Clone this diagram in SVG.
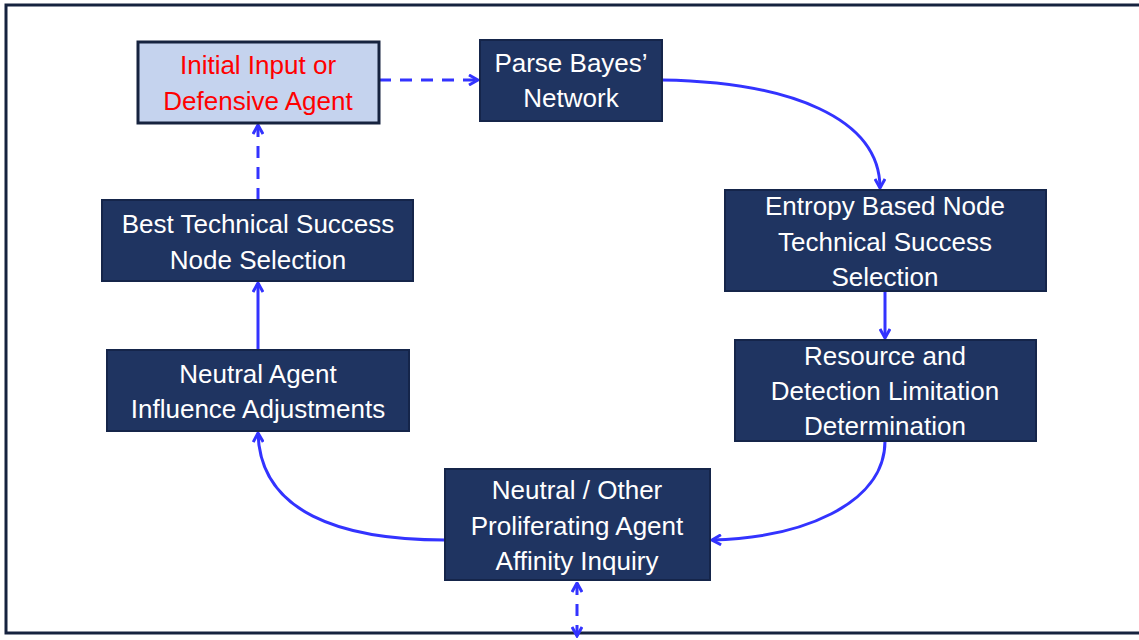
<svg xmlns="http://www.w3.org/2000/svg" width="1139" height="640" viewBox="0 0 1139 640">
<style>
.node rect{fill:#1f3461;stroke:#15254a;stroke-width:2}
.node text{fill:#ffffff;font-family:"Liberation Sans",Arial,sans-serif;font-size:26px;text-anchor:middle}
#n-initial rect{fill:#c5d3ee;stroke:#16233f;stroke-width:3}
#n-initial text{fill:#ff0000}
.conn path{fill:none;stroke:#3333ff;stroke-width:3}
.conn .dash{stroke-dasharray:12 9}
</style>
<defs>
<marker id="arr" viewBox="0 0 12 12" refX="10.5" refY="6" markerWidth="12" markerHeight="12" markerUnits="userSpaceOnUse" orient="auto-start-reverse">
<path d="M1.5,1 L10.5,6 L1.5,11" fill="none" stroke="#3333ff" stroke-width="3"/>
</marker>
</defs>
<rect width="1139" height="640" fill="#ffffff"/>
<path d="M1139,5 H6 V633 H1139" fill="none" stroke="#16233f" stroke-width="3"/>
<g class="conn">
<path class="dash" d="M379,80 H478" marker-end="url(#arr)"/>
<path d="M662,80 C790,82 880,118 880,188" marker-end="url(#arr)"/>
<path d="M885,292 V338" marker-end="url(#arr)"/>
<path d="M885,441 C885,505 800,538 712,540" marker-end="url(#arr)"/>
<path d="M445,540 C340,540 260,512 258,433" marker-end="url(#arr)"/>
<path d="M258,350 V283" marker-end="url(#arr)"/>
<path class="dash" d="M258,200 V125" marker-end="url(#arr)"/>
<path class="dash" d="M577,583 V636" marker-start="url(#arr)" marker-end="url(#arr)"/>
</g>
<g id="n-initial" class="node">
<rect x="138" y="42" width="241" height="81"/>
<text x="258" y="74">Initial Input or</text>
<text x="258" y="110">Defensive Agent</text>
</g>
<g id="n-parse" class="node">
<rect x="480" y="40" width="182" height="81"/>
<text x="571" y="72">Parse Bayes’</text>
<text x="571" y="107">Network</text>
</g>
<g id="n-entropy" class="node">
<rect x="725" y="190" width="321" height="101"/>
<text x="885" y="215">Entropy Based Node</text>
<text x="885" y="251">Technical Success</text>
<text x="885" y="286">Selection</text>
</g>
<g id="n-resource" class="node">
<rect x="735" y="340" width="301" height="101"/>
<text x="885" y="365">Resource and</text>
<text x="885" y="400">Detection Limitation</text>
<text x="885" y="435">Determination</text>
</g>
<g id="n-neutral-other" class="node">
<rect x="445" y="469" width="265" height="111"/>
<text x="577" y="499">Neutral / Other</text>
<text x="577" y="535">Proliferating Agent</text>
<text x="577" y="570">Affinity Inquiry</text>
</g>
<g id="n-neutral-agent" class="node">
<rect x="107" y="350" width="302" height="81"/>
<text x="258" y="383">Neutral Agent</text>
<text x="258" y="418">Influence Adjustments</text>
</g>
<g id="n-best" class="node">
<rect x="102" y="200" width="311" height="81"/>
<text x="258" y="233">Best Technical Success</text>
<text x="258" y="269">Node Selection</text>
</g>
</svg>
